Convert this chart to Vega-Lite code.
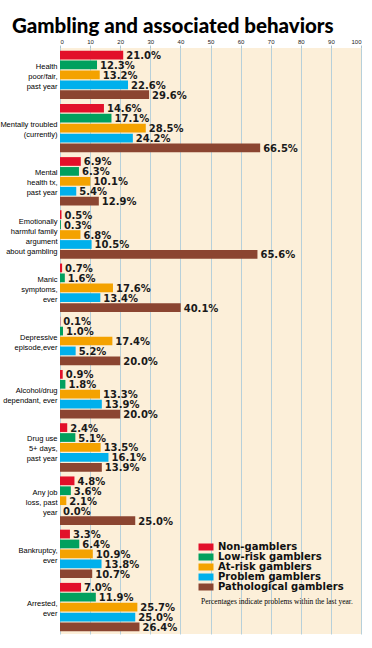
{
  "$schema": "https://vega.github.io/schema/vega-lite/v6.json",
  "width": 301,
  "height": 586,
  "autosize": {"type": "none"},
  "padding": {"left": 60, "top": 48, "right": 11, "bottom": 14},
  "background": "white",
  "title": {
    "text": "Gambling and associated behaviors",
    "anchor": "start",
    "frame": "group",
    "dx": -48,
    "offset": 1,
    "font": "Lato",
    "fontWeight": 900,
    "fontSize": 20.5,
    "color": "#000"
  },
  "config": {
    "view": {"fill": "#fcefd9", "stroke": null}
  },
  "data": {
    "values": [
      {"item": "Health|poor/fair,|past year", "group": "Non-gamblers", "value": 21.0},
      {"item": "Health|poor/fair,|past year", "group": "Low-risk gamblers", "value": 12.3},
      {"item": "Health|poor/fair,|past year", "group": "At-risk gamblers", "value": 13.2},
      {"item": "Health|poor/fair,|past year", "group": "Problem gamblers", "value": 22.6},
      {"item": "Health|poor/fair,|past year", "group": "Pathological gamblers", "value": 29.6},
      {"item": "Mentally troubled|(currently)", "group": "Non-gamblers", "value": 14.6},
      {"item": "Mentally troubled|(currently)", "group": "Low-risk gamblers", "value": 17.1},
      {"item": "Mentally troubled|(currently)", "group": "At-risk gamblers", "value": 28.5},
      {"item": "Mentally troubled|(currently)", "group": "Problem gamblers", "value": 24.2},
      {"item": "Mentally troubled|(currently)", "group": "Pathological gamblers", "value": 66.5},
      {"item": "Mental|health tx,|past year", "group": "Non-gamblers", "value": 6.9},
      {"item": "Mental|health tx,|past year", "group": "Low-risk gamblers", "value": 6.3},
      {"item": "Mental|health tx,|past year", "group": "At-risk gamblers", "value": 10.1},
      {"item": "Mental|health tx,|past year", "group": "Problem gamblers", "value": 5.4},
      {"item": "Mental|health tx,|past year", "group": "Pathological gamblers", "value": 12.9},
      {"item": "Emotionally|harmful family|argument|about gambling", "group": "Non-gamblers", "value": 0.5},
      {"item": "Emotionally|harmful family|argument|about gambling", "group": "Low-risk gamblers", "value": 0.3},
      {"item": "Emotionally|harmful family|argument|about gambling", "group": "At-risk gamblers", "value": 6.8},
      {"item": "Emotionally|harmful family|argument|about gambling", "group": "Problem gamblers", "value": 10.5},
      {"item": "Emotionally|harmful family|argument|about gambling", "group": "Pathological gamblers", "value": 65.6},
      {"item": "Manic|symptoms,|ever", "group": "Non-gamblers", "value": 0.7},
      {"item": "Manic|symptoms,|ever", "group": "Low-risk gamblers", "value": 1.6},
      {"item": "Manic|symptoms,|ever", "group": "At-risk gamblers", "value": 17.6},
      {"item": "Manic|symptoms,|ever", "group": "Problem gamblers", "value": 13.4},
      {"item": "Manic|symptoms,|ever", "group": "Pathological gamblers", "value": 40.1},
      {"item": "Depressive|episode,ever", "group": "Non-gamblers", "value": 0.1},
      {"item": "Depressive|episode,ever", "group": "Low-risk gamblers", "value": 1.0},
      {"item": "Depressive|episode,ever", "group": "At-risk gamblers", "value": 17.4},
      {"item": "Depressive|episode,ever", "group": "Problem gamblers", "value": 5.2},
      {"item": "Depressive|episode,ever", "group": "Pathological gamblers", "value": 20.0},
      {"item": "Alcohol/drug|dependant, ever", "group": "Non-gamblers", "value": 0.9},
      {"item": "Alcohol/drug|dependant, ever", "group": "Low-risk gamblers", "value": 1.8},
      {"item": "Alcohol/drug|dependant, ever", "group": "At-risk gamblers", "value": 13.3},
      {"item": "Alcohol/drug|dependant, ever", "group": "Problem gamblers", "value": 13.9},
      {"item": "Alcohol/drug|dependant, ever", "group": "Pathological gamblers", "value": 20.0},
      {"item": "Drug use|5+ days,|past year", "group": "Non-gamblers", "value": 2.4},
      {"item": "Drug use|5+ days,|past year", "group": "Low-risk gamblers", "value": 5.1},
      {"item": "Drug use|5+ days,|past year", "group": "At-risk gamblers", "value": 13.5},
      {"item": "Drug use|5+ days,|past year", "group": "Problem gamblers", "value": 16.1},
      {"item": "Drug use|5+ days,|past year", "group": "Pathological gamblers", "value": 13.9},
      {"item": "Any job|loss, past|year", "group": "Non-gamblers", "value": 4.8},
      {"item": "Any job|loss, past|year", "group": "Low-risk gamblers", "value": 3.6},
      {"item": "Any job|loss, past|year", "group": "At-risk gamblers", "value": 2.1},
      {"item": "Any job|loss, past|year", "group": "Problem gamblers", "value": 0.0},
      {"item": "Any job|loss, past|year", "group": "Pathological gamblers", "value": 25.0},
      {"item": "Bankruptcy,|ever", "group": "Non-gamblers", "value": 3.3},
      {"item": "Bankruptcy,|ever", "group": "Low-risk gamblers", "value": 6.4},
      {"item": "Bankruptcy,|ever", "group": "At-risk gamblers", "value": 10.9},
      {"item": "Bankruptcy,|ever", "group": "Problem gamblers", "value": 13.8},
      {"item": "Bankruptcy,|ever", "group": "Pathological gamblers", "value": 10.7},
      {"item": "Arrested,|ever", "group": "Non-gamblers", "value": 7.0},
      {"item": "Arrested,|ever", "group": "Low-risk gamblers", "value": 11.9},
      {"item": "Arrested,|ever", "group": "At-risk gamblers", "value": 25.7},
      {"item": "Arrested,|ever", "group": "Problem gamblers", "value": 25.0},
      {"item": "Arrested,|ever", "group": "Pathological gamblers", "value": 26.4}
    ]
  },
  "transform": [
    {"calculate": "format(datum.value, '.1f') + '%'", "as": "pct"}
  ],
  "encoding": {
    "y": {
      "field": "item",
      "type": "nominal",
      "sort": null,
      "title": null,
      "scale": {"paddingInner": 0.09, "paddingOuter": 0.05},
      "axis": {
        "labelExpr": "split(datum.value, '|')",
        "ticks": false,
        "domain": false,
        "labelFont": "Liberation Sans",
        "labelFontSize": 7.5,
        "labelLineHeight": 10,
        "labelPadding": 3,
        "labelColor": "#000",
        "labelLimit": 80,
        "labelOffset": {
          "condition": [
            {"test": "length(split(datum.value, '|')) == 4", "value": -13},
            {"test": "length(split(datum.value, '|')) == 3", "value": -8}
          ],
          "value": -3
        }
      }
    },
    "yOffset": {
      "field": "group",
      "type": "nominal",
      "sort": ["Non-gamblers", "Low-risk gamblers", "At-risk gamblers", "Problem gamblers", "Pathological gamblers"],
      "scale": {"paddingInner": 0.12}
    },
    "x": {
      "field": "value",
      "type": "quantitative",
      "scale": {"domain": [0, 100]},
      "title": null,
      "axis": {
        "orient": "top",
        "values": [0, 10, 20, 30, 40, 50, 60, 70, 80, 90, 100],
        "domain": false,
        "tickSize": 3,
        "tickColor": "#a9c4cf",
        "grid": true,
        "gridColor": "#b7d0da",
        "gridWidth": 1,
        "labelFont": "Liberation Sans",
        "labelFontSize": 6,
        "labelPadding": 1,
        "labelColor": "#222"
      }
    }
  },
  "layer": [
    {
      "mark": {"type": "bar"},
      "encoding": {
        "color": {
          "field": "group",
          "type": "nominal",
          "sort": ["Non-gamblers", "Low-risk gamblers", "At-risk gamblers", "Problem gamblers", "Pathological gamblers"],
          "scale": {
            "domain": ["Non-gamblers", "Low-risk gamblers", "At-risk gamblers", "Problem gamblers", "Pathological gamblers"],
            "range": ["#e2102a", "#00a05e", "#f4a200", "#00b0ec", "#8b4531"]
          },
          "legend": {
            "orient": "none",
            "legendX": 141,
            "legendY": 494,
            "title": "Percentages indicate problems within the last year.",
            "titleOrient": "bottom",
            "titleFont": "Liberation Serif",
            "titleFontWeight": "normal",
            "titleFontSize": 7.5,
            "titleColor": "#000",
            "titlePadding": 6,
            "titleLimit": 300,
            "labelFont": "DejaVu Sans",
            "labelFontWeight": "bold",
            "labelFontSize": 10,
            "labelColor": "#111",
            "labelOffset": 7,
            "symbolType": "M-1.5,-0.7H1.5V0.7H-1.5Z",
            "symbolSize": 100,
            "symbolStrokeWidth": 0,
            "symbolOpacity": 1,
            "rowPadding": 0
          }
        }
      }
    },
    {
      "mark": {
        "type": "text",
        "align": "left",
        "baseline": "middle",
        "dx": 3,
        "dy": 1,
        "font": "DejaVu Sans",
        "fontWeight": "bold",
        "fontSize": 10,
        "color": "#1a1a1a"
      },
      "encoding": {"text": {"field": "pct"}}
    }
  ]
}
